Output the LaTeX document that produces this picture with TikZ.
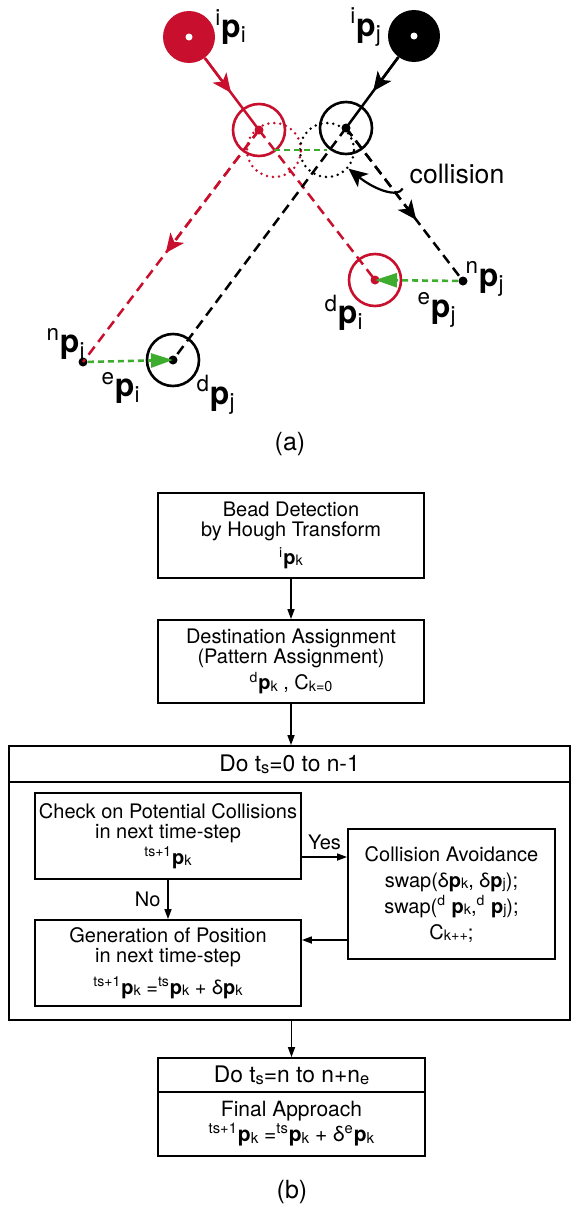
\documentclass[tikz,border=0pt]{standalone}
\usepackage{fontspec}
\setmainfont{TeX Gyre Heros}
\usetikzlibrary{arrows.meta, calc}

\definecolor{beadred}{RGB}{200,16,46}
\definecolor{movegreen}{RGB}{62,172,46}

\newcommand{\supx}[1]{\textsuperscript{#1}}
\newcommand{\subx}[1]{\textsubscript{#1}}
\newcommand{\ix}[1]{\raisebox{-0.15ex}{\scalebox{0.72}{#1}}}
\newcommand{\bp}{\textbf{p}}

\begin{document}
\begin{tikzpicture}[
  x=0.5pt, y=-0.5pt,
  bead/.style={circle, inner sep=0pt, minimum size=26pt},
  ring/.style={circle, draw, line width=1.3pt, inner sep=0pt, minimum size=26pt},
  ghost/.style={circle, draw, line width=1.4pt, dash pattern=on 0pt off 3pt, line cap=round, inner sep=0pt, minimum size=27pt},
  dot/.style={circle, fill, inner sep=0pt, minimum size=4.5pt},
  track/.style={line width=1.25pt},
  trackdash/.style={line width=1.25pt, dash pattern=on 5pt off 3pt},
  tip/.style={-{Stealth[length=9.5pt,width=8.5pt,inset=2.5pt]}},
  greenpath/.style={color=movegreen, line width=1.3pt, dash pattern=on 3pt off 2pt, -{Triangle[length=11pt,width=7pt]}},
  plab/.style={inner sep=0pt, font=\fontsize{16}{16}\selectfont},
  box/.style={draw, line width=0.9pt, minimum width=133pt, align=center, inner sep=2pt, font=\fontsize{10}{10}\selectfont},
  headbox/.style={draw, line width=0.9pt, inner sep=0pt, font=\fontsize{11.4}{12}\selectfont},
  flow/.style={-{Triangle[length=5pt,width=3.5pt]}, line width=0.8pt}
]
\useasboundingbox (0,0) rectangle (571,1210);

% (a) two beads crossing
\node[bead, fill=beadred] (ri) at (189,37) {};
\node[bead, fill=black] (rj) at (414,36) {};
\node[circle, fill=white, inner sep=0pt, minimum size=3.5pt] (riw) at (ri) {};
\node[circle, fill=white, inner sep=0pt, minimum size=3.5pt] (rjw) at (rj) {};
\node[plab] (lii) at (231,27) {\supx{i}\bp\subx{i}};
\node[plab] (lij) at (366,27) {\supx{i}\bp\subx{j}};

\node[ring, draw=beadred] (ci) at (259,130) {};
\node[ring] (cj) at (346,128) {};
\node[ghost, draw=beadred] (gi) at (274,150) {};
\node[ghost] (gj) at (327,150) {};
\node[dot, beadred] (cid) at (ci) {};
\node[dot] (cjd) at (cj) {};

\node[ring, draw=beadred] (di) at (375,280) {};
\node[dot, beadred] (did) at (di) {};
\node[ring] (dj) at (173,360) {};
\node[dot] (djd) at (dj) {};
\node[dot] (ni) at (83,362) {};
\node[dot] (nj) at (463,281) {};

\node[plab] (lni) at (66,344) {\supx{n}\bp\subx{i}};
\node[plab] (lei) at (121,388) {\supx{e}\bp\subx{i}};
\node[plab] (ldj) at (216,395) {\supx{d}\bp\subx{j}};
\node[plab] (ldi) at (344,313) {\supx{d}\bp\subx{i}};
\node[plab] (lej) at (437,310) {\supx{e}\bp\subx{j}};
\node[plab] (lnj) at (485,279) {\supx{n}\bp\subx{j}};

\draw[track, beadred] (ri) -- (ci.center);
\draw[track, beadred, tip] (ri) -- ($(ri)!0.6!(ci.center)$);
\draw[track] (rj) -- (cj.center);
\draw[track, tip] (rj) -- ($(rj)!0.6!(cj.center)$);
\draw[trackdash, beadred] (ci.center) -- (ni.center);
\draw[trackdash, beadred, tip] (ci.center) -- ($(ci.center)!0.53!(ni.center)$);
\draw[trackdash, beadred] (ci.center) -- (di.center);
\draw[trackdash] (cj.center) -- (nj.center);
\draw[trackdash, tip] (cj.center) -- ($(cj.center)!0.6!(nj.center)$);
\draw[trackdash] (cj.center) -- (dj.center);
\draw[greenpath, -] (gi.center) -- (gj.center);
\draw[greenpath] (ni) -- (dj.center);
\draw[greenpath] (nj) -- (di.center);

\node[font=\fontsize{13.3}{14}\selectfont] (coll) at (457,174) {collision};
\draw[line width=1.1pt, tip] (coll.195) .. controls (398,198) and (375,190) .. (gj.-41);

\node[font=\fontsize{12.5}{13}\selectfont] (capa) at (290,444) {(a)};

% (b) flow chart
\node[box, minimum height=42.5pt] (detect) at (291,535.5)
  {Bead Detection\\by Hough Transform\\[2pt]\supx{i}\bp\ix{k}};
\node[box, minimum height=41.5pt] (assign) at (291,661.5)
  {Destination Assignment\\(Pattern Assignment)\\[1pt]\supx{d}\bp\ix{k} , C\ix{k=0}};

\node[headbox, minimum width=280.5pt, minimum height=18pt] (loophead) at (289.5,764) {Do t\ix{s}=0 to n-1};
\node[draw, line width=0.9pt, minimum width=280.5pt, minimum height=119pt] (loopbody) at (289.5,901) {};

\node[box, minimum height=43pt] (check) at (168,836)
  {Check on Potential Collisions\\in next time-step\\[1pt]\supx{ts+1}\bp\ix{k}};
\node[box, minimum height=43pt] (gen) at (168,963)
  {Generation of Position\\in next time-step\\[4pt]\supx{ts+1}\bp\ix{k} =\supx{ts}\bp\ix{k} + δ\bp\ix{k}};
\node[box, minimum width=103.5pt, minimum height=65pt, font=\fontsize{10}{13}\selectfont] (avoid) at (451.5,894)
  {Collision Avoidance\\swap(δ\bp\ix{k}, δ\bp\ix{j});\\swap(\supx{d} \bp\ix{k},\supx{d} \bp\ix{j});\\C\ix{k++};};

\node[headbox, minimum width=133.5pt, minimum height=17pt] (finhead) at (291.5,1075) {Do t\ix{s}=n to n+n\ix{e}};
\node[box, minimum width=133.5pt, minimum height=32pt, font=\fontsize{10.5}{11}\selectfont] (final) at (291.5,1124)
  {Final Approach\\\supx{ts+1}\bp\ix{k} =\supx{ts}\bp\ix{k} + δ\supx{e}\bp\ix{k}};

\draw[flow] (detect) -- (assign);
\draw[flow] (assign.south) -- (loophead.north -| assign.south);
\draw[flow] ($(check.east)+(0,21)$) -- node[above, font=\fontsize{10}{10}\selectfont] {Yes} ($(avoid.west)+(0,-37)$);
\draw[flow] ($(avoid.west)+(0,46)$) -- ($(gen.east)+(0,-23)$);
\draw[flow] (check) -- node[left, font=\fontsize{10}{10}\selectfont] {No} (gen);
\draw[flow] (loopbody.south -| finhead.north) -- (finhead.north);

\node[font=\fontsize{12.5}{13}\selectfont] (capb) at (292,1192) {(b)};
\end{tikzpicture}
\end{document}
